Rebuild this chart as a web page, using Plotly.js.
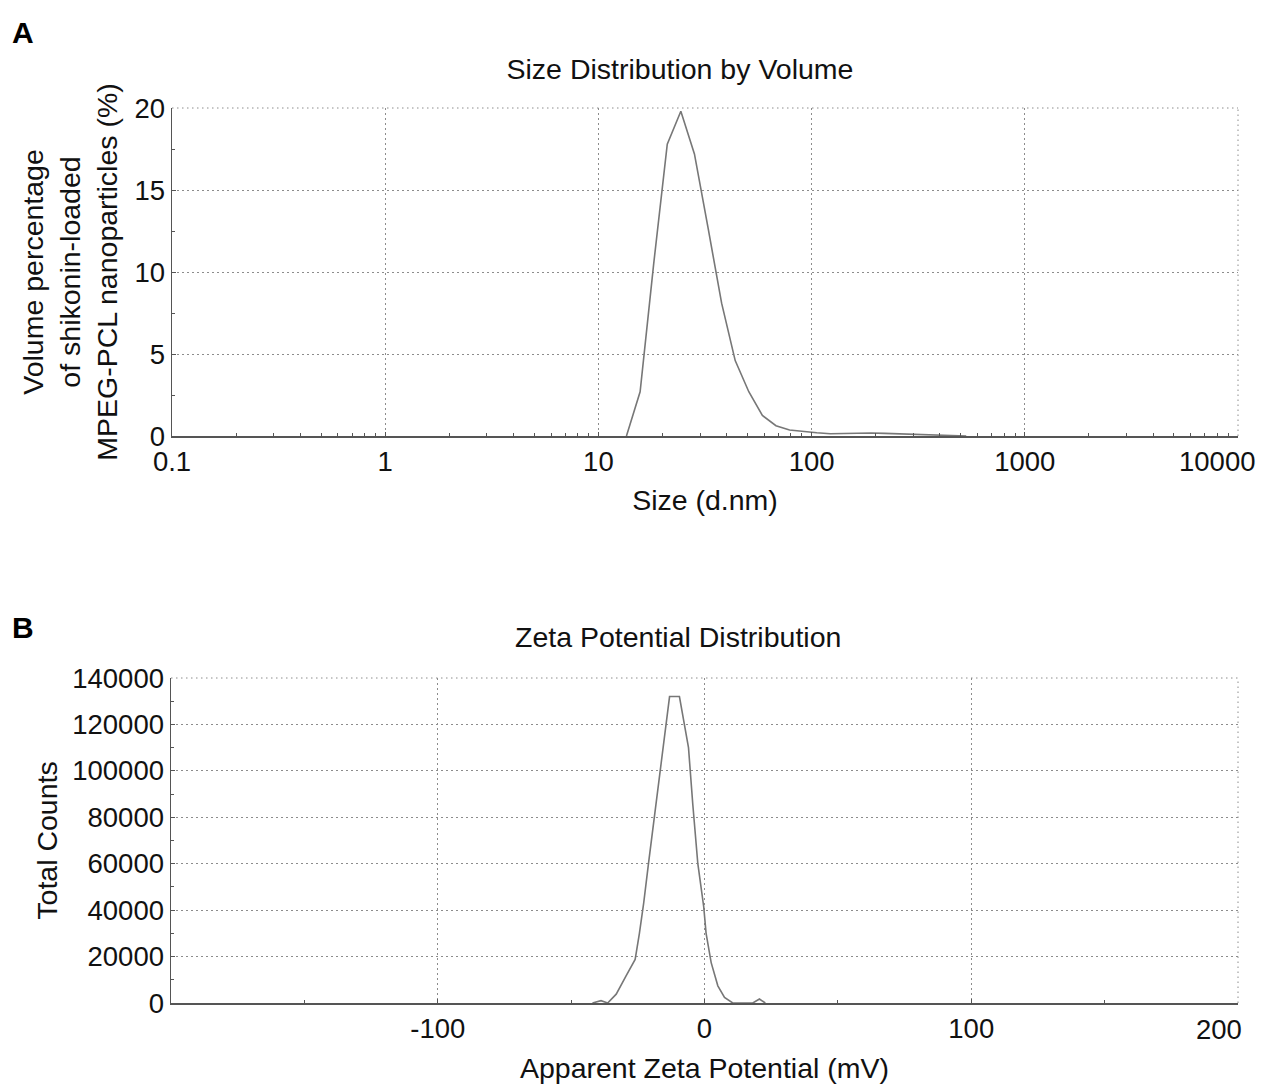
<!DOCTYPE html>
<html><head><meta charset="utf-8">
<script src="https://cdn.plot.ly/plotly-3.0.1.min.js"></script>
<style>body{margin:0;background:#fff}#chart{width:1262px;height:1084px}</style>
</head><body><div id="chart"></div>
<script>
// Panel A: size distribution by volume
const sizeNm = [13.54, 15.69, 18.17, 21.04, 24.36, 28.21, 32.67, 37.84, 43.82, 50.75, 58.77, 68.06, 78.82, 91.28, 105.7, 122.4, 141.8, 164.2, 190.1, 220.2, 255.0, 295.3, 342.0, 396.1, 458.7, 531.2];
const volumePct = [0, 2.7, 10.5, 17.8, 19.8, 17.2, 12.7, 8.1, 4.6, 2.7, 1.25, 0.63, 0.37, 0.27, 0.2, 0.14, 0.16, 0.2, 0.18, 0.16, 0.14, 0.12, 0.1, 0.06, 0.02, 0];
const sizeTickVals = [0.1, 1, 10, 100, 1000, 10000];
const sizeTickText = ['0.1', '1', '10', '100', '1000', '10000'];
const volTickVals = [0, 5, 10, 15, 20];

// Panel B: zeta potential distribution
const zetaMv = [-42, -38.8, -36.3, -33.1, -29.4, -26, -24.4, -22.8, -21, -18.8, -16.6, -15, -13.1, -9.4, -6, -4.4, -2.5, -0.3, 0.6, 2.5, 5, 7.5, 10.6, 18.1, 20.6, 22.8];
const totalCounts = [0, 1000, 0, 3800, 11700, 18800, 30000, 43000, 60000, 80000, 100000, 114000, 132000, 132000, 110000, 85700, 60000, 41500, 30000, 17400, 7400, 2400, 0, 0, 1700, 0];
const zetaTickVals = [-100, 0, 100, 200];
const zetaTickText = ['-100', '0', '100', '200'];
const countTickVals = [0, 20000, 40000, 60000, 80000, 100000, 120000, 140000];

const W = 1262, H = 1084;
const px = x => x / W, py = y => 1 - y / H;
const FONT = 'Liberation Sans, Arial, Helvetica, sans-serif';

// The right-most tick label of each x axis is pulled in from the frame edge,
// so it is drawn as an annotation anchored at that tick value instead of a centred tick label.
const lastOf = a => a[a.length - 1];
const sizeTickLabels = sizeTickText.map((t, i) => i === sizeTickText.length - 1 ? '' : t);
const zetaTickLabels = zetaTickText.map((t, i) => i === zetaTickText.length - 1 ? '' : t);

// log minor ticks 2..9 per decade
const logMinor = [];
for (let d = -1; d < 4; d++) for (let k = 2; k <= 9; k++) logMinor.push(k * Math.pow(10, d));

const GRID = '#8c8c8c', DASH = '1.5px,3.5px';
const lineStyle = {color: '#777', width: 1.6};
const TICKFONT = {family: FONT, size: 27.5, color: '#111'};
const TITLEFONT = {family: FONT, size: 28.5, color: '#111'};
const axisCommon = {
  showline: true, linecolor: '#555', linewidth: 1.5,
  showgrid: true, gridcolor: GRID, gridwidth: 1, griddash: DASH,
  zeroline: false, ticks: 'inside', ticklen: 4, tickcolor: '#555',
  tickfont: TICKFONT, mirror: false, fixedrange: true
};

const traces = [
  {x: sizeNm, y: volumePct, type: 'scatter', mode: 'lines', line: lineStyle, xaxis: 'x', yaxis: 'y', showlegend: false, hoverinfo: 'x+y'},
  {x: zetaMv, y: totalCounts, type: 'scatter', mode: 'lines', line: lineStyle, xaxis: 'x2', yaxis: 'y2', showlegend: false, hoverinfo: 'x+y'}
];

// dotted frame edges (top and right) that Plotly omits from the grid
const edge = (xr, yr, x0, y0, x1, y1) => ({type: 'line', xref: xr, yref: yr, x0, y0, x1, y1, line: {color: GRID, width: 1, dash: DASH}, layer: 'below'});

const layout = {
  width: W, height: H,
  margin: {l: 0, r: 0, t: 0, b: 0},
  paper_bgcolor: '#fff', plot_bgcolor: '#fff',
  font: {family: FONT, color: '#111'},
  title: {text: 'Size Distribution by Volume', font: TITLEFONT,
          x: px(680), xanchor: 'center', y: py(69), yanchor: 'middle', xref: 'paper', yref: 'paper'},
  xaxis: Object.assign({}, axisCommon, {
    domain: [px(172), px(1238)], anchor: 'y', type: 'log', range: [-1, 4],
    tickmode: 'array', tickvals: sizeTickVals, ticktext: sizeTickLabels,
    minor: {tickmode: 'array', tickvals: logMinor, ticks: 'inside', ticklen: 3, tickcolor: '#555', showgrid: false},
    title: {text: 'Size (d.nm)', font: TITLEFONT, standoff: 14}
  }),
  yaxis: Object.assign({}, axisCommon, {
    domain: [py(436), py(108)], anchor: 'x', range: [0, 20],
    tickmode: 'array', tickvals: volTickVals,
    minor: {dtick: 2.5, ticks: 'inside', ticklen: 3, tickcolor: '#555', showgrid: false},
    title: {text: 'Volume percentage<br>of shikonin-loaded<br>MPEG-PCL nanoparticles (%)', font: TITLEFONT, standoff: 8}
  }),
  xaxis2: Object.assign({}, axisCommon, {
    domain: [px(171), px(1238)], anchor: 'y2', range: [-200, 200],
    tickmode: 'array', tickvals: zetaTickVals, ticktext: zetaTickLabels,
    minor: {dtick: 50, ticks: 'inside', ticklen: 3, tickcolor: '#555', showgrid: false},
    title: {text: 'Apparent Zeta Potential (mV)', font: TITLEFONT, standoff: 22}
  }),
  yaxis2: Object.assign({}, axisCommon, {
    domain: [py(1003), py(678)], anchor: 'x2', range: [0, 140000],
    tickmode: 'array', tickvals: countTickVals, tickformat: 'd',
    minor: {dtick: 10000, ticks: 'inside', ticklen: 3, tickcolor: '#555', showgrid: false},
    title: {text: 'Total Counts', font: TITLEFONT, standoff: 6}
  }),
  shapes: [
    edge('x domain', 'y domain', 0, 1, 1, 1),
    edge('x domain', 'y domain', 1, 0, 1, 1),
    edge('x2 domain', 'y2 domain', 0, 1, 1, 1),
    edge('x2 domain', 'y2 domain', 1, 0, 1, 1)
  ],
  annotations: [
    {text: lastOf(sizeTickText), x: Math.log10(lastOf(sizeTickVals)), y: 0, xref: 'x', yref: 'y', showarrow: false, font: TICKFONT, xanchor: 'right', yanchor: 'top', xshift: 19, yshift: -8},
    {text: lastOf(zetaTickText), x: lastOf(zetaTickVals), y: 0, xref: 'x2', yref: 'y2', showarrow: false, font: TICKFONT, xanchor: 'right', yanchor: 'top', xshift: 6, yshift: -9},
    {text: '<b>A</b>', x: px(23), y: py(32), xref: 'paper', yref: 'paper', showarrow: false, font: {family: FONT, size: 30, color: '#000'}, xanchor: 'center', yanchor: 'middle'},
    {text: '<b>B</b>', x: px(23), y: py(627), xref: 'paper', yref: 'paper', showarrow: false, font: {family: FONT, size: 30, color: '#000'}, xanchor: 'center', yanchor: 'middle'},
    {text: 'Zeta Potential Distribution', x: px(678), y: py(637), xref: 'paper', yref: 'paper', showarrow: false, font: TITLEFONT, xanchor: 'center', yanchor: 'middle'}
  ]
};

Plotly.newPlot('chart', traces, layout, {displayModeBar: false, staticPlot: true});
</script>
</body></html>
